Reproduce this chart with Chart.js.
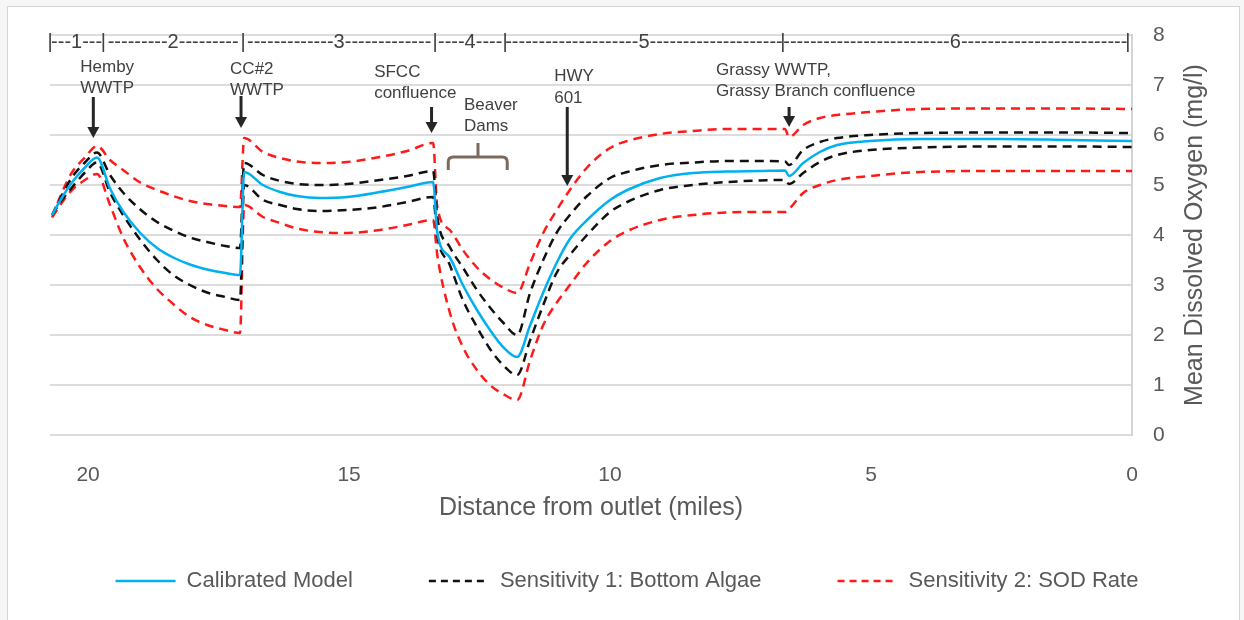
<!DOCTYPE html>
<html>
<head>
<meta charset="utf-8">
<script src="https://cdn.jsdelivr.net/npm/chart.js@4.4.1/dist/chart.umd.min.js"></script>
<style>
  html, body { margin: 0; padding: 0; background: #ffffff; }
  #wrap { width: 1244px; height: 620px; position: relative; }
</style>
</head>
<body>
<div id="wrap"><canvas id="c" width="1244" height="620"></canvas></div>
<script>
// ---------------- DATA ----------------
const distance = [20.69, 20.50, 20.31, 20.06, 19.83, 19.58, 19.33, 19.00, 18.68, 18.37,
                  18.05, 17.72, 17.37, 17.09, 17.01, 16.65, 16.32, 16.00, 15.56, 15.04,
                  14.41, 13.89, 13.39, 13.31, 13.07, 12.82, 12.55, 12.30, 12.05, 11.78,
                  11.53, 11.28, 11.02, 10.77, 10.44, 10.00, 9.67, 9.04, 8.41, 7.76,
                  7.13, 6.65, 6.57, 6.30, 5.98, 5.65, 5.02, 4.06, 2.53, 1.19, 0.00];

const calibrated = [4.40, 4.75, 5.05, 5.35, 5.55, 4.93, 4.47, 4.04, 3.74, 3.55,
                    3.41, 3.31, 3.24, 3.20, 5.26, 5.00, 4.86, 4.78, 4.74, 4.76,
                    4.86, 4.96, 5.06, 4.05, 3.55, 3.00, 2.50, 2.10, 1.76, 1.56,
                    2.20, 2.85, 3.45, 3.92, 4.30, 4.70, 4.90, 5.14, 5.24, 5.27,
                    5.28, 5.29, 5.18, 5.44, 5.66, 5.80, 5.88, 5.92, 5.92, 5.90, 5.88];

const sens1Upper = [4.40, 4.80, 5.15, 5.45, 5.65, 5.20, 4.85, 4.51, 4.26, 4.09,
                    3.95, 3.86, 3.78, 3.74, 5.44, 5.20, 5.08, 5.02, 5.00, 5.02,
                    5.10, 5.18, 5.28, 4.36, 3.76, 3.35, 2.90, 2.55, 2.25, 2.00,
                    2.85, 3.50, 4.05, 4.40, 4.78, 5.14, 5.26, 5.40, 5.45, 5.48,
                    5.48, 5.47, 5.40, 5.70, 5.86, 5.94, 6.00, 6.04, 6.05, 6.05, 6.04];

const sens1Lower = [4.40, 4.70, 4.95, 5.25, 5.45, 4.85, 4.40, 3.90, 3.50, 3.20,
                    3.00, 2.85, 2.76, 2.70, 5.00, 4.70, 4.60, 4.52, 4.48, 4.50,
                    4.56, 4.66, 4.76, 3.98, 3.40, 2.70, 2.16, 1.72, 1.40, 1.20,
                    1.90, 2.60, 3.25, 3.60, 4.00, 4.46, 4.66, 4.90, 5.00, 5.06,
                    5.09, 5.10, 5.02, 5.24, 5.46, 5.60, 5.70, 5.75, 5.77, 5.77, 5.76];

const sens2Upper = [4.35, 4.85, 5.25, 5.55, 5.78, 5.50, 5.30, 5.05, 4.90, 4.78,
                    4.68, 4.62, 4.58, 4.56, 5.94, 5.66, 5.54, 5.47, 5.44, 5.46,
                    5.56, 5.68, 5.84, 4.56, 4.10, 3.70, 3.35, 3.12, 2.95, 2.84,
                    3.44, 4.04, 4.50, 4.90, 5.35, 5.74, 5.88, 6.02, 6.08, 6.12,
                    6.12, 6.12, 5.96, 6.20, 6.34, 6.40, 6.46, 6.52, 6.53, 6.53, 6.52];

const sens2Lower = [4.35, 4.65, 4.90, 5.10, 5.22, 4.60, 3.95, 3.35, 2.92, 2.62,
                    2.36, 2.20, 2.10, 2.04, 4.60, 4.36, 4.24, 4.13, 4.06, 4.04,
                    4.10, 4.20, 4.30, 3.60, 2.45, 1.76, 1.30, 1.00, 0.82, 0.70,
                    1.50, 2.20, 2.65, 3.00, 3.45, 3.88, 4.08, 4.30, 4.40, 4.45,
                    4.46, 4.46, 4.52, 4.84, 5.00, 5.10, 5.18, 5.26, 5.28, 5.28, 5.28];

const seriesNames = ['Calibrated Model', 'Sensitivity 1: Bottom Algae', 'Sensitivity 2: SOD Rate'];
const xTicks = [20, 15, 10, 5, 0];
const yTicks = [0, 1, 2, 3, 4, 5, 6, 7, 8];
const segmentLabels = ['1', '2', '3', '4', '5', '6'];
const segmentBounds = [20.73, 19.71, 17.03, 13.35, 12.01, 6.69, 0.08];
const xTitle = 'Distance from outlet (miles)';
const yTitle = 'Mean Dissolved Oxygen (mg/l)';

// annotation texts and their anchor values (in axis units)
const arrowNotes = [
  { lines: ['Hemby', 'WWTP'], at: 20.15, rows: [7.36, 6.94], arrowAt: 19.90, from: 6.76, to: 5.94 },
  { lines: ['CC#2', 'WWTP'], at: 17.28, rows: [7.32, 6.90], arrowAt: 17.07, from: 6.78, to: 6.14 },
  { lines: ['SFCC', 'confluence'], at: 14.52, rows: [7.26, 6.84], arrowAt: 13.42, from: 6.56, to: 6.04 },
  { lines: ['HWY', '601'], at: 11.07, rows: [7.18, 6.74], arrowAt: 10.82, from: 6.56, to: 4.98 },
  { lines: ['Grassy WWTP,', 'Grassy Branch confluence'], at: 7.97, rows: [7.30, 6.88], arrowAt: 6.57, from: 6.56, to: 6.16 }
];
const braceNote = { lines: ['Beaver', 'Dams'], at: 12.80, rows: [6.60, 6.18], from: 13.10, to: 11.97, mid: 12.53, foot: 5.30, bar: 5.56, tip: 5.84 };
const segmentRow = 7.86;

// ---------------- BUILD ----------------
const FONT = "'Liberation Sans', Arial, sans-serif";
const GREY = '#595959';

function pts(vals) { return distance.map((d, i) => ({ x: d, y: vals[i] })); }
function joined(a, b) {
  return pts(a).concat([{ x: distance[distance.length - 1], y: null }], pts(b));
}

const bgPlugin = {
  id: 'bg',
  beforeDraw(chart) {
    const ctx = chart.ctx;
    ctx.save();
    ctx.fillStyle = '#f6f6f6';
    ctx.fillRect(0, 0, chart.width, chart.height);
    ctx.fillStyle = '#ffffff';
    ctx.fillRect(7, 6, 1232, 640);
    ctx.strokeStyle = '#d4d4d4';
    ctx.lineWidth = 1;
    ctx.strokeRect(7.5, 6.5, 1232, 640);
    ctx.restore();
  }
};

const notesPlugin = {
  id: 'notes',
  afterDraw(chart) {
    const ctx = chart.ctx;
    const xs = chart.scales.x, ys = chart.scales.y;
    const X = v => xs.getPixelForValue(v);
    const Y = v => ys.getPixelForValue(v);
    ctx.save();

    // segment bar
    ctx.font = '20px ' + FONT;
    ctx.fillStyle = '#404040';
    ctx.textBaseline = 'middle';
    ctx.textAlign = 'center';
    const sy = Y(segmentRow);
    const dashW = ctx.measureText('-').width;
    const pipeW = ctx.measureText('|').width;
    segmentBounds.forEach(b => ctx.fillText('|', X(b), sy));
    for (let i = 0; i < segmentLabels.length; i++) {
      const p1 = X(segmentBounds[i]), p2 = X(segmentBounds[i + 1]);
      const lab = segmentLabels[i];
      const lw = ctx.measureText(lab).width;
      const avail = (p2 - p1) - pipeW;
      const n = Math.max(1, Math.round((avail - lw) / 2 / dashW));
      ctx.fillText('-'.repeat(n) + lab + '-'.repeat(n), (p1 + p2) / 2, sy);
    }

    // arrow annotations
    ctx.font = '17px ' + FONT;
    ctx.textAlign = 'left';
    ctx.fillStyle = '#404040';
    arrowNotes.forEach(n => {
      n.lines.forEach((t, k) => ctx.fillText(t, X(n.at), Y(n.rows[k])));
      const ax = X(n.arrowAt), y1 = Y(n.from), y2 = Y(n.to);
      ctx.strokeStyle = '#262626';
      ctx.fillStyle = '#262626';
      ctx.lineWidth = 3;
      ctx.beginPath();
      ctx.moveTo(ax, y1);
      ctx.lineTo(ax, y2 - 9);
      ctx.stroke();
      ctx.beginPath();
      ctx.moveTo(ax - 6, y2 - 11);
      ctx.lineTo(ax + 6, y2 - 11);
      ctx.lineTo(ax, y2);
      ctx.closePath();
      ctx.fill();
      ctx.fillStyle = '#404040';
    });

    // beaver dams brace
    braceNote.lines.forEach((t, k) => ctx.fillText(t, X(braceNote.at), Y(braceNote.rows[k])));
    const xl = X(braceNote.from), xr = X(braceNote.to), xc = X(braceNote.mid);
    const yb = Y(braceNote.foot), yh = Y(braceNote.bar), yt = Y(braceNote.tip);
    ctx.strokeStyle = '#7a6a5c';
    ctx.lineWidth = 3;
    ctx.beginPath();
    ctx.moveTo(xl, yb);
    ctx.lineTo(xl, yh + 5);
    ctx.quadraticCurveTo(xl, yh, xl + 5, yh);
    ctx.lineTo(xr - 5, yh);
    ctx.quadraticCurveTo(xr, yh, xr, yh + 5);
    ctx.lineTo(xr, yb);
    ctx.moveTo(xc, yh);
    ctx.lineTo(xc, yt);
    ctx.stroke();

    // y-axis title (reads bottom to top)
    ctx.font = '25px ' + FONT;
    ctx.fillStyle = GREY;
    ctx.textAlign = 'center';
    ctx.textBaseline = 'middle';
    ctx.translate(chart.chartArea.right + 63, (chart.chartArea.top + chart.chartArea.bottom) / 2);
    ctx.rotate(-Math.PI / 2);
    ctx.fillText(yTitle, 0, 0);
    ctx.restore();
  }
};

new Chart(document.getElementById('c'), {
  type: 'line',
  data: {
    datasets: [
      { label: seriesNames[0], data: pts(calibrated), borderColor: '#00b0f0', borderWidth: 2.5,
        pointRadius: 0, cubicInterpolationMode: 'monotone', spanGaps: false },
      { label: seriesNames[1], data: joined(sens1Upper, sens1Lower), borderColor: '#111111', borderWidth: 2.5,
        borderDash: [9, 6], pointRadius: 0, cubicInterpolationMode: 'monotone', spanGaps: false },
      { label: seriesNames[2], data: joined(sens2Upper, sens2Lower), borderColor: '#ff1a1a', borderWidth: 2.5,
        borderDash: [9, 6], pointRadius: 0, cubicInterpolationMode: 'monotone', spanGaps: false }
    ]
  },
  options: {
    responsive: false,
    animation: false,
    devicePixelRatio: 1,
    layout: { padding: { left: 10, right: 0, top: 35, bottom: 18 } },
    scales: {
      x: {
        type: 'linear', position: 'bottom', reverse: true, min: 0, max: 20.73,
        grid: { display: false }, border: { display: false },
        ticks: { font: { family: FONT, size: 21 }, color: GREY, padding: 20, maxRotation: 0 },
        afterBuildTicks: s => { s.ticks = xTicks.map(v => ({ value: v })); },
        afterFit: s => { s.height = 59; },
        title: { display: true, text: xTitle, color: GREY, font: { family: FONT, size: 25 },
                 padding: { top: 0, bottom: -29 } }
      },
      y: {
        type: 'linear', position: 'right', min: 0, max: 8,
        grid: { color: '#dcdcdc', lineWidth: 2, drawTicks: false },
        border: { display: true, color: '#d4d4d4', width: 2 },
        ticks: { font: { family: FONT, size: 21 }, color: GREY, padding: 21 },
        afterBuildTicks: s => { s.ticks = yTicks.map(v => ({ value: v })); },
        afterFit: s => { s.width = 112; }
      },
      yLeft: {
        type: 'linear', position: 'left', display: true,
        grid: { display: false }, border: { display: false }, ticks: { display: false },
        afterFit: s => { s.width = 40; }
      }
    },
    plugins: {
      tooltip: { enabled: false },
      legend: {
        position: 'bottom',
        labels: {
          usePointStyle: true, pointStyle: 'line', pointStyleWidth: 60, padding: 76,
          color: GREY, font: { family: FONT, size: 22 },
          generateLabels: chart => Chart.defaults.plugins.legend.labels.generateLabels(chart).map((item, i) => {
            const ds = chart.data.datasets[i];
            item.lineDash = ds.borderDash ? [7, 5] : [];
            item.strokeStyle = ds.borderColor;
            item.fillStyle = ds.borderColor;
            item.lineWidth = 2.5;
            item.pointStyle = 'line';
            return item;
          })
        }
      }
    }
  },
  plugins: [bgPlugin, notesPlugin]
});
</script>
</body>
</html>
